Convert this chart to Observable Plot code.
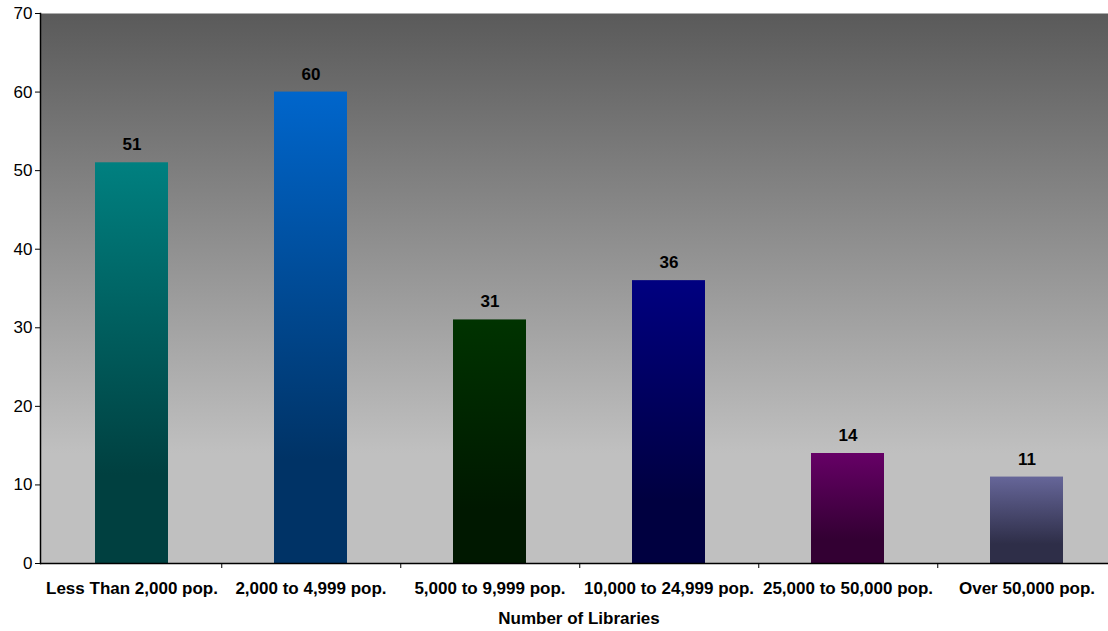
<!DOCTYPE html>
<html>
<head>
<meta charset="utf-8">
<script src="https://cdn.jsdelivr.net/npm/d3@7"></script>
<script src="https://cdn.jsdelivr.net/npm/@observablehq/plot@0.6"></script>
<style>
  html, body { margin: 0; padding: 0; background: #fff; }
  #chart svg { display: block; }
  #chart svg [aria-label="y-axis tick label"] { font-size: 17px; }
</style>
</head>
<body>
<div id="chart"></div>
<script>
const categories = ["Less Than 2,000 pop.", "2,000 to 4,999 pop.", "5,000 to 9,999 pop.", "10,000 to 24,999 pop.", "25,000 to 50,000 pop.", "Over 50,000 pop."];
const counts = [51, 60, 31, 36, 14, 11];
const topColors = ["#008080", "#0066cc", "#003300", "#000080", "#660066", "#666699"];
const bottomColors = ["#004040", "#003366", "#001800", "#000040", "#330033", "#2e2e48"];
const yTicks = [0, 10, 20, 30, 40, 50, 60, 70];
const xTitle = "Number of Libraries";

const data = categories.map((c, i) => ({cat: c, value: counts[i], grad: `url(#barGrad${i})`}));

const W = 1108, H = 631, mL = 40, mR = -9;
const step = (W - mL - mR) / categories.length;
const FS = 17;

const defsMark = () => {
  const defs = d3.create("svg:defs");
  const bg = defs.append("linearGradient").attr("id", "bgGrad").attr("x1", 0).attr("y1", 0).attr("x2", 0).attr("y2", 1);
  bg.append("stop").attr("offset", 0).attr("stop-color", "#5a5a5a");
  bg.append("stop").attr("offset", 0.8).attr("stop-color", "#c0c0c0");
  bg.append("stop").attr("offset", 1).attr("stop-color", "#c0c0c0");
  topColors.forEach((t, i) => {
    const g = defs.append("linearGradient").attr("id", `barGrad${i}`).attr("x1", 0).attr("y1", 0).attr("x2", 0).attr("y2", 1);
    g.append("stop").attr("offset", 0).attr("stop-color", t);
    g.append("stop").attr("offset", 0.78).attr("stop-color", bottomColors[i]);
    g.append("stop").attr("offset", 1).attr("stop-color", bottomColors[i]);
  });
  return defs.node();
};

const plot = Plot.plot({
  width: W,
  height: H,
  marginLeft: mL,
  marginRight: mR,
  marginTop: 13,
  marginBottom: 68,
  style: {fontFamily: "Arial, 'Liberation Sans', sans-serif", fontSize: FS + "px", color: "#000", background: "#fff", overflow: "hidden"},
  x: {domain: categories, paddingInner: 0.593, paddingOuter: 0.2965, label: null},
  y: {domain: [0, 70], label: null},
  color: {type: "identity"},
  marks: [
    defsMark,
    Plot.frame({fill: "url(#bgGrad)", stroke: "none"}),
    Plot.barY(data, {x: "cat", y: "value", fill: "grad"}),
    Plot.text(data, {x: "cat", y: "value", text: d => String(d.value), dy: -18, fontWeight: "bold", fontSize: FS, fill: "#000"}),
    Plot.axisY({ticks: yTicks, tickSize: 5, tickPadding: 3, fontSize: FS, label: null, stroke: "#000"}),
    Plot.axisX({ticks: categories, tickSize: 0, tickPadding: 18, fontSize: FS, fontWeight: "bold", label: null}),
    Plot.axisX({ticks: categories.slice(0, 5), tickSize: 5, tickFormat: () => "", dx: step / 2, label: null, stroke: "#000"}),
    Plot.ruleY([0], {stroke: "#000", strokeWidth: 1.5}),
    Plot.frame({anchor: "left", stroke: "#000", strokeWidth: 1.5}),
    Plot.text([xTitle], {frameAnchor: "bottom", text: d => d, dy: 60, fontWeight: "bold", fontSize: FS, fill: "#000"})
  ]
});
document.getElementById("chart").appendChild(plot);
</script>
</body>
</html>
